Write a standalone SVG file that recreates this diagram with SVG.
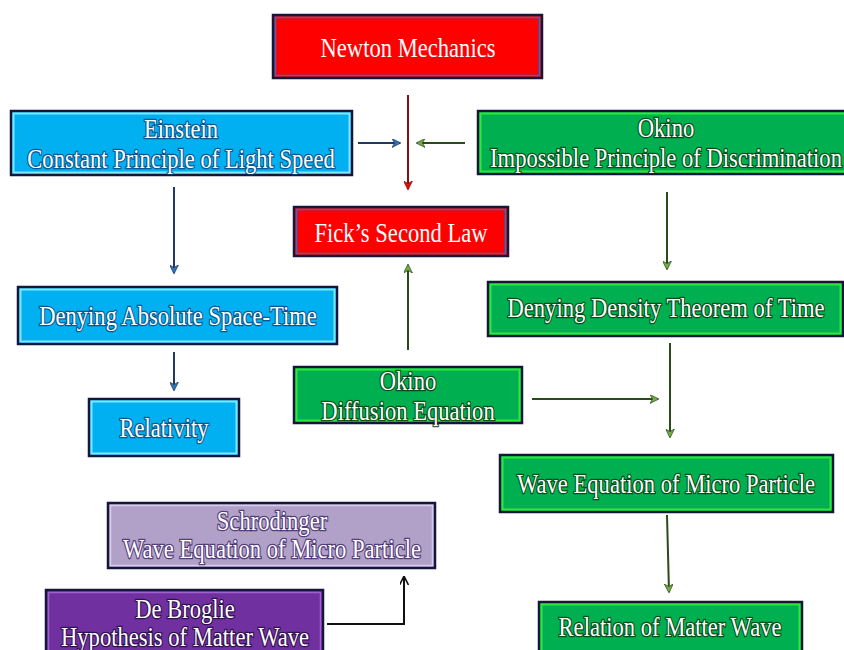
<svg xmlns="http://www.w3.org/2000/svg" width="844" height="650" viewBox="0 0 844 650">
<defs>
<style>
.o{stroke:#15163a;stroke-width:2.5}
.red{fill:#ff0000}
.cyan{fill:#00b0f0}
.green{fill:#00b050}
.lav{fill:#b1a0c7}
.pur{fill:#7030a0}
.ir{fill:none;stroke:#2a6fd0;stroke-width:1.5}
.ic{fill:none;stroke:#7fe6ff;stroke-width:2}
.ig{fill:none;stroke:#2ee83a;stroke-width:2}
.il{fill:none;stroke:#d8ccea;stroke-width:1.5}
.ip{fill:none;stroke:#a060d0;stroke-width:1.5}
text{font-family:"Liberation Serif","Times New Roman",serif;font-size:22.6px;fill:#ffffff;text-anchor:middle;paint-order:stroke}
.tr{stroke:none}
.tc{stroke:#0d3a70;stroke-width:2.2;stroke-opacity:0.75}
.tg{stroke:#06330a;stroke-width:2.2;stroke-opacity:0.8}
.tl{stroke:#3b2266;stroke-width:2.2;stroke-opacity:0.8}
.tp{stroke:#1e0838;stroke-width:2.2;stroke-opacity:0.8}
.c{fill:none;stroke-width:2}
</style>
<marker id="aB" viewBox="0 0 10 10" refX="9" refY="5" markerWidth="9" markerHeight="9" orient="auto" markerUnits="userSpaceOnUse"><path d="M0,0 L10,5 L0,10 L3,5 z" fill="#2e75b6" stroke="#1f3864" stroke-width="0.8"/></marker>
<marker id="aG" viewBox="0 0 10 10" refX="9" refY="5" markerWidth="9" markerHeight="9" orient="auto" markerUnits="userSpaceOnUse"><path d="M0,0 L10,5 L0,10 L3,5 z" fill="#70ad47" stroke="#2d4a1a" stroke-width="0.8"/></marker>
<marker id="aR" viewBox="0 0 10 10" refX="9" refY="5" markerWidth="9" markerHeight="9" orient="auto" markerUnits="userSpaceOnUse"><path d="M0,0 L10,5 L0,10 L3,5 z" fill="#e01010" stroke="#8b0000" stroke-width="0.8"/></marker>
<marker id="aK" viewBox="0 0 10 10" refX="9" refY="5" markerWidth="9" markerHeight="9" orient="auto" markerUnits="userSpaceOnUse"><path d="M0,0 L10,5 L0,10" fill="none" stroke="#111" stroke-width="1.8"/></marker>
</defs>
<rect width="844" height="650" fill="#ffffff"/>

<g id="connectors">
<line class="c" x1="408" y1="95" x2="408" y2="189" stroke="#7a1515" marker-end="url(#aR)"/>
<line class="c" x1="358" y1="143" x2="400" y2="143" stroke="#1f3864" marker-end="url(#aB)"/>
<line class="c" x1="465" y1="143" x2="417" y2="143" stroke="#2d4a1a" marker-end="url(#aG)"/>
<line class="c" x1="174" y1="187" x2="174" y2="273" stroke="#1f3864" marker-end="url(#aB)"/>
<line class="c" x1="174" y1="352" x2="174" y2="390" stroke="#1f3864" marker-end="url(#aB)"/>
<line class="c" x1="667" y1="192" x2="667" y2="269" stroke="#2d4a1a" marker-end="url(#aG)"/>
<line class="c" x1="670" y1="343" x2="670" y2="437" stroke="#2d4a1a" marker-end="url(#aG)"/>
<line class="c" x1="532" y1="399" x2="658" y2="399" stroke="#2d4a1a" marker-end="url(#aG)"/>
<line class="c" x1="408" y1="350" x2="408" y2="265" stroke="#2d4a1a" marker-end="url(#aG)"/>
<line class="c" x1="667" y1="515" x2="669" y2="592" stroke="#2d4a1a" marker-end="url(#aG)"/>
<path class="c" d="M327,624 L404,624 L404,577" stroke="#111111" marker-end="url(#aK)"/>
</g>

<g id="newton">
<rect class="o red" x="273" y="15" width="269" height="63"/>
<rect class="ir" x="275.5" y="17.5" width="264" height="58"/>
<text class="tr" transform="translate(408 57) scale(1 1.18)">Newton Mechanics</text>
</g>

<g id="einstein">
<rect class="o cyan" x="11" y="111" width="341" height="64"/>
<rect class="ic" x="13.5" y="113.5" width="336" height="59"/>
<text class="tc" transform="translate(181 138) scale(1 1.18)">Einstein</text>
<text class="tc" transform="translate(181 168) scale(1 1.18)">Constant Principle of Light Speed</text>
</g>

<g id="okino-principle">
<rect class="o green" x="478" y="111" width="372" height="63"/>
<rect class="ig" x="480.5" y="113.5" width="367" height="58"/>
<text class="tg" transform="translate(666 137) scale(1 1.18)">Okino</text>
<text class="tg" transform="translate(666 167) scale(1 1.18)">Impossible Principle of Discrimination</text>
</g>

<g id="fick">
<rect class="o red" x="294" y="207" width="214" height="49"/>
<rect class="ir" x="296.5" y="209.5" width="209" height="44"/>
<text class="tr" transform="translate(401 242) scale(1 1.18)">Fick’s Second Law</text>
</g>

<g id="denying-absolute">
<rect class="o cyan" x="18" y="287" width="319" height="57"/>
<rect class="ic" x="20.5" y="289.5" width="314" height="52"/>
<text class="tc" transform="translate(178 325) scale(1 1.18)">Denying Absolute Space-Time</text>
</g>

<g id="relativity">
<rect class="o cyan" x="89" y="399" width="150" height="57"/>
<rect class="ic" x="91.5" y="401.5" width="145" height="52"/>
<text class="tc" transform="translate(164 437) scale(1 1.18)">Relativity</text>
</g>

<g id="denying-density">
<rect class="o green" x="488" y="282" width="355" height="54"/>
<rect class="ig" x="490.5" y="284.5" width="350" height="49"/>
<text class="tg" transform="translate(666 317) scale(1 1.18)">Denying Density Theorem of Time</text>
</g>

<g id="okino-diffusion">
<rect class="o green" x="294" y="367" width="228" height="56"/>
<rect class="ig" x="296.5" y="369.5" width="223" height="51"/>
<text class="tg" transform="translate(408 390) scale(1 1.18)">Okino</text>
<text class="tg" transform="translate(408 420) scale(1 1.18)">Diffusion Equation</text>
</g>

<g id="wave-equation">
<rect class="o green" x="500" y="455" width="333" height="57"/>
<rect class="ig" x="502.5" y="457.5" width="328" height="52"/>
<text class="tg" transform="translate(666 493) scale(1 1.18)">Wave Equation of Micro Particle</text>
</g>

<g id="schrodinger">
<rect class="o lav" x="108" y="503" width="327" height="65"/>
<rect class="il" x="110.5" y="505.5" width="322" height="60"/>
<text class="tl" transform="translate(272 530) scale(1 1.18)">Schrodinger</text>
<text class="tl" transform="translate(272 558) scale(1 1.18)">Wave Equation of Micro Particle</text>
</g>

<g id="de-broglie">
<rect class="o pur" x="46" y="590" width="277" height="70"/>
<rect class="ip" x="48.5" y="592.5" width="272" height="65"/>
<text class="tp" transform="translate(185 618) scale(1 1.18)">De Broglie</text>
<text class="tp" transform="translate(185 646) scale(1 1.18)">Hypothesis of Matter Wave</text>
</g>

<g id="relation">
<rect class="o green" x="539" y="602" width="263" height="60"/>
<rect class="ig" x="541.5" y="604.5" width="258" height="55"/>
<text class="tg" transform="translate(670 636) scale(1 1.18)">Relation of Matter Wave</text>
</g>
</svg>
